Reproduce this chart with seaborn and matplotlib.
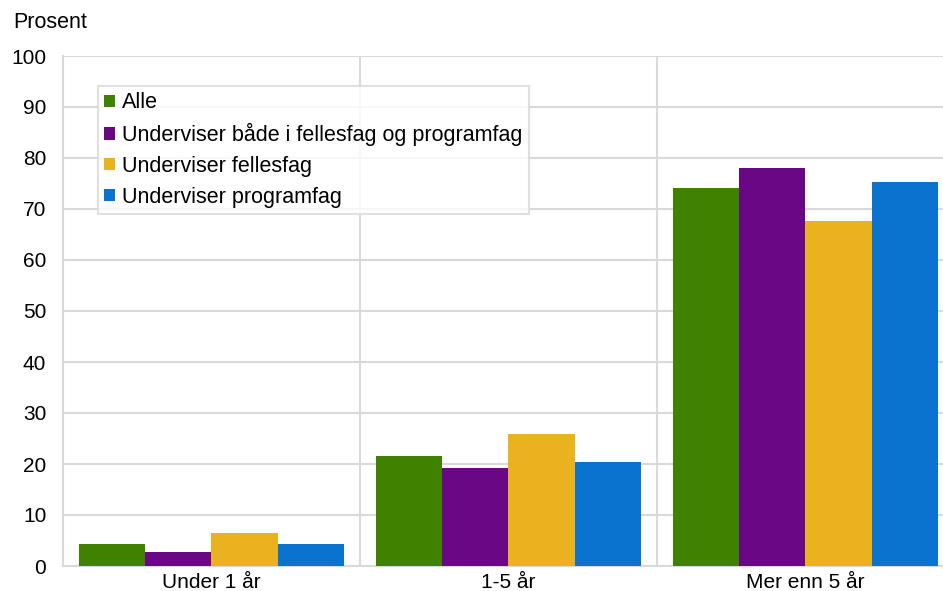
import matplotlib
matplotlib.use("Agg")
import matplotlib.pyplot as plt
import seaborn as sns
import pandas as pd
from matplotlib.ticker import FixedLocator

categories = ["Under 1 år", "1-5 år", "Mer enn 5 år"]
series = ["Alle", "Underviser både i fellesfag og programfag", "Underviser fellesfag", "Underviser programfag"]
alle = [4.4, 21.6, 74.1]
begge = [2.7, 19.2, 78.1]
fellesfag = [6.4, 25.8, 67.6]
programfag = [4.4, 20.4, 75.2]
colors = ["#3F8200", "#6A0785", "#EBB220", "#0A73CF"]

rows = []
for s, vals in zip(series, [alle, begge, fellesfag, programfag]):
    for c, v in zip(categories, vals):
        rows.append({"Kategori": c, "Serie": s, "Prosent": v})
df = pd.DataFrame(rows)

sns.set_theme(style="white")
plt.rcParams["font.family"] = ["Liberation Sans", "DejaVu Sans"]
plt.rcParams["text.color"] = "black"

fig = plt.figure(figsize=(9.43, 5.91), dpi=100)
ax = fig.add_axes([63 / 943, 25 / 591, 880 / 943, 510 / 591])

sns.barplot(data=df, x="Kategori", y="Prosent", hue="Serie", order=categories,
            hue_order=series, palette=colors, width=0.89, saturation=1,
            errorbar=None, ax=ax, edgecolor="none", linewidth=0, zorder=3)

ax.set_ylim(0, 100)
ax.set_xlim(-0.5, 2.463)
ax.set_yticks(range(0, 101, 10))
ax.xaxis.set_minor_locator(FixedLocator([0.5, 1.5]))
ax.grid(axis="y", which="major", color="#D9D9D9", linewidth=1.5, zorder=0)
ax.grid(axis="x", which="minor", color="#D9D9D9", linewidth=1.5, zorder=0)
ax.grid(axis="x", which="major", visible=False)
ax.tick_params(axis="both", which="both", length=0, labelsize=15, colors="black")
ax.tick_params(axis="y", pad=12)
ax.tick_params(axis="x", pad=5)
for side in ["top", "right"]:
    ax.spines[side].set_visible(False)
for side in ["left", "bottom"]:
    ax.spines[side].set_color("#D9D9D9")
    ax.spines[side].set_linewidth(1.5)
ax.set_xlabel("")
ax.set_ylabel("")
fig.text(13 / 943, 1 - 22 / 591, "Prosent", fontsize=15.5, va="center", ha="left", color="black")

leg = ax.legend(loc="upper left", bbox_to_anchor=(35 / 880, 1 - 30 / 510), frameon=True,
                fontsize=15.5, handlelength=0.5, handleheight=0.5, handletextpad=0.3,
                labelspacing=0.45, borderpad=0.3, fancybox=False, borderaxespad=0,
                labelcolor="black")
leg.get_frame().set_edgecolor("#D9D9D9")
leg.get_frame().set_linewidth(1.5)
leg.get_frame().set_facecolor("white")
leg.set_zorder(5)

fig.savefig("out.png", dpi=100)
